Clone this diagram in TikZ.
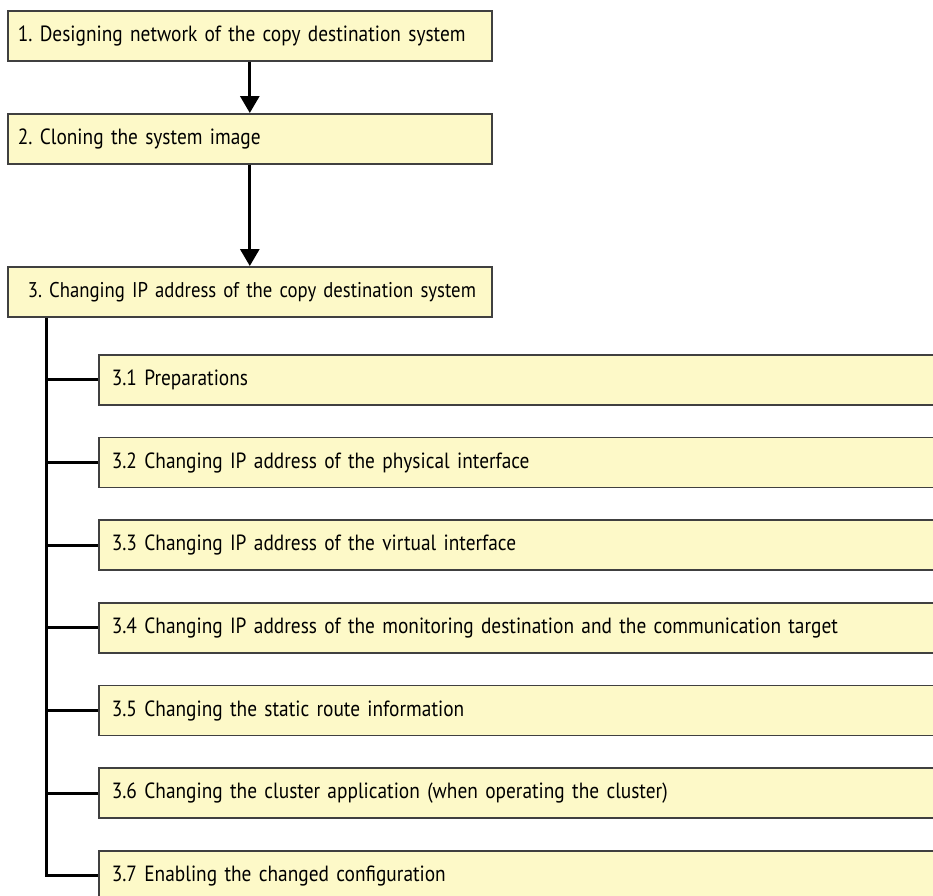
\documentclass[tikz,border=0pt]{standalone}
\usepackage{fontspec}
\setmainfont[FakeStretch=0.88]{PT Sans}
\usetikzlibrary{arrows.meta}
\definecolor{stepfill}{RGB}{253,249,200}
\frenchspacing

\begin{document}
\begin{tikzpicture}[x=1pt,y=-1pt,
  mainstep/.style={draw=black!75,line width=1.6pt,fill=stepfill,anchor=north west,
    minimum height=50pt,inner xsep=10pt,text width=464pt,align=left,
    font=\fontsize{22}{25}\selectfont},
  substep/.style={mainstep,inner xsep=13pt,text width=834pt},
  flow/.style={line width=3pt,-{Triangle[width=19pt,length=17pt]}},
  tree/.style={line width=3pt}]
\useasboundingbox (0,0) rectangle (933,895);
\clip (0,0) rectangle (933,895);

% Main steps
\node[mainstep] (m1) at (7,10) {1. Designing network of the copy destination system};
\node[mainstep] (m2) at (7,113) {2. Cloning the system image};
\node[mainstep,font=\fontsize{21.3}{25}\selectfont] (m3) at (7,266)
  {\hspace*{10pt}\mbox{3. Changing IP address of the copy destination system}};

\draw[flow] (m1) -- (m2);
\draw[flow] (m2) -- (m3);

% Sub steps of 3
\node[substep] (s1) at (98,354) {3.1 Preparations};
\node[substep] (s2) at (98,436.7) {3.2 Changing IP address of the physical interface};
\node[substep] (s3) at (98,519.3) {3.3 Changing IP address of the virtual interface};
\node[substep] (s4) at (98,602) {3.4 Changing IP address of the monitoring destination and the communication target};
\node[substep] (s5) at (98,684.7) {3.5 Changing the static route information};
\node[substep] (s6) at (98,767.3) {3.6 Changing the cluster application (when operating the cluster)};
\node[substep] (s7) at (98,850) {3.7 Enabling the changed configuration};

% Tree
\coordinate (trunk) at ([xshift=39pt]m3.south west);
\draw[tree] (trunk) |- (s7.west);
\foreach \s in {s1,s2,s3,s4,s5,s6}
  \draw[tree] (trunk |- \s.west) -- (\s.west);
\end{tikzpicture}
\end{document}
